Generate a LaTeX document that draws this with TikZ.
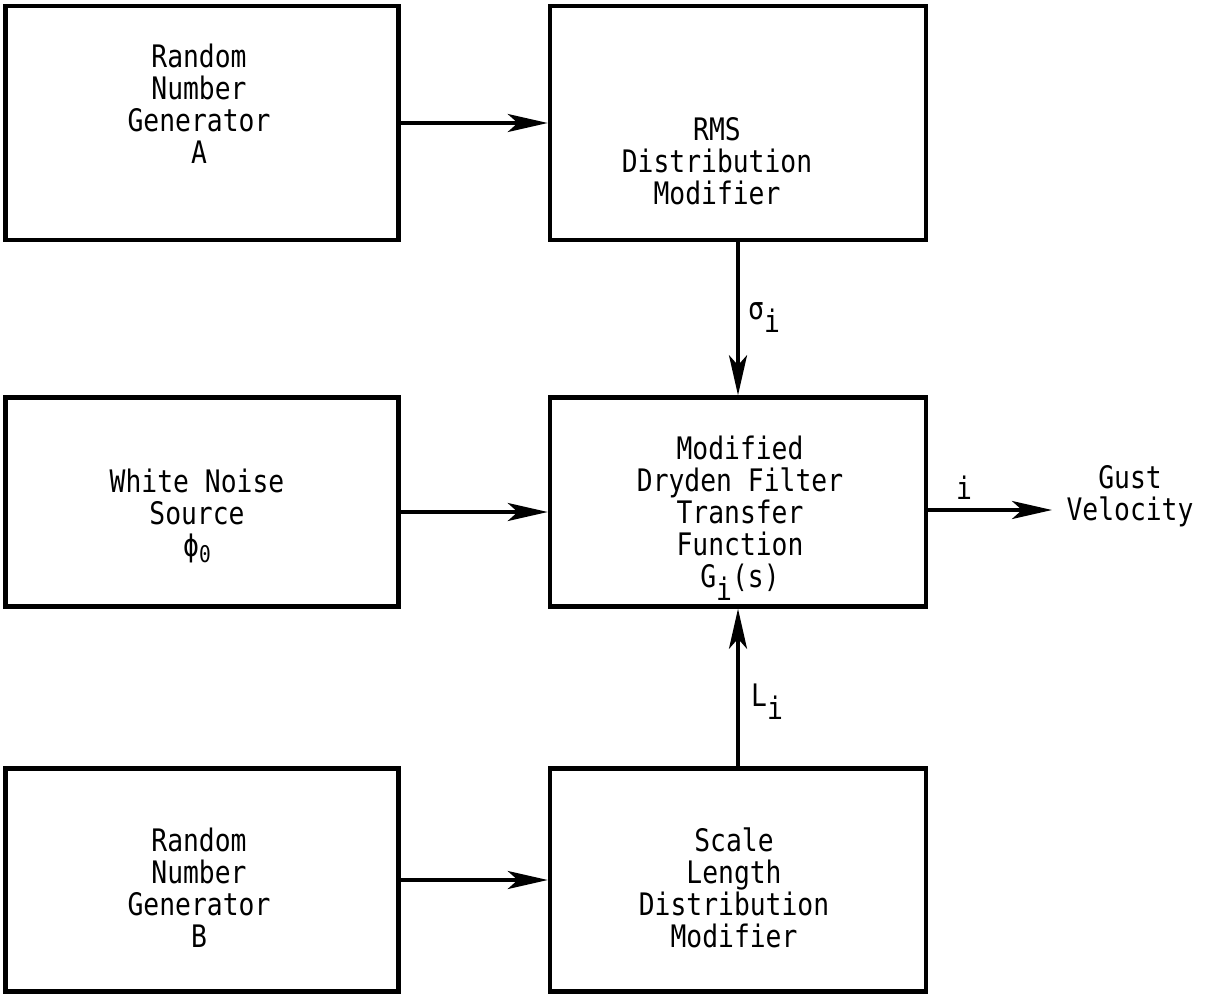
\documentclass[tikz,border=0pt]{standalone}
\usepackage{fontspec}
\usetikzlibrary{arrows.meta}
\newfontfamily\tw[FakeStretch=0.85]{DejaVu Sans Mono}
\tikzset{
  blk/.style={draw, line width=4.5pt, rectangle, inner sep=0pt},
  txt/.style={font=\tw\fontsize{31}{32}\selectfont, align=center, inner sep=0pt},
  arr/.style={line width=3.8pt, -{Stealth[length=40pt,width=18pt,inset=10pt]}}
}
\newcommand{\lowi}{\raisebox{-0.42em}{i}}
\begin{document}
\begin{tikzpicture}[x=1pt,y=-1pt]
\useasboundingbox (0,0) rectangle (1206,996);
% boxes
\node[blk, minimum width=393pt, minimum height=234pt] (ga) at (202,123) {};
\node[blk, minimum width=376pt, minimum height=234pt] (rms) at (738,123) {};
\node[blk, minimum width=393pt, minimum height=209pt] (wn) at (202,502) {};
\node[blk, minimum width=376pt, minimum height=209pt] (dry) at (738,502) {};
\node[blk, minimum width=393pt, minimum height=223pt] (gb) at (202,880) {};
\node[blk, minimum width=376pt, minimum height=223pt] (sl) at (738,880) {};
% texts
\node[txt] (tga) at (199,104) {Random\\Number\\Generator\\A};
\node[txt] (trms) at (717,161) {RMS\\Distribution\\Modifier};
\node[txt] (twn) at (197,516) {White Noise\\Source\\ϕ{\fontsize{23}{23}\selectfont\raisebox{-0.25em}{0}}};
\node[txt] (tdry) at (740,518) {Modified\\Dryden Filter\\Transfer\\Function\\G\lowi(s)};
\node[txt] (tgb) at (199,888) {Random\\Number\\Generator\\B};
\node[txt] (tsl) at (734,888) {Scale\\Length\\Distribution\\Modifier};
% connectors
\draw[arr] (ga.east) -- (rms.west);
\draw[arr] ([yshift=-10pt]wn.east) -- ([yshift=-10pt]dry.west);
\draw[arr] (gb.east) -- (sl.west);
\draw[arr] (rms.south) -- (dry.north);
\draw[arr] (sl.north) -- (dry.south);
\coordinate (out) at (1052,510);
\draw[arr] (dry.east |- out) -- (out);
% labels
\node[txt, anchor=west] (lsig) at (748,318) {σ\lowi};
\node[txt, anchor=west] (lli) at (751,702) {L\lowi};
\node[txt] (lout) at (964,488) {i};
\node[txt] (lgust) at (1130,496) {Gust\\Velocity};
\end{tikzpicture}
\end{document}
